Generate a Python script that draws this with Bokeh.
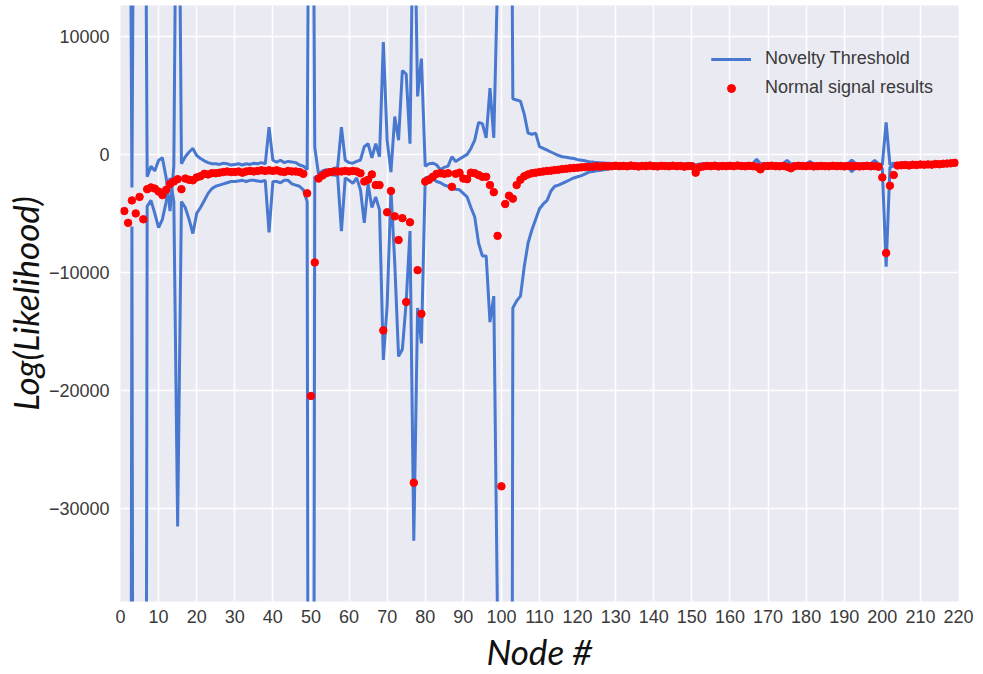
from bokeh.plotting import figure
from bokeh.models import Range1d, FixedTicker, Legend, LegendItem
from bokeh.embed import file_html
from bokeh.resources import INLINE

# ---------------- data ----------------
nodes = list(range(1, 220))

normal_results = [
    -4800, -5800, -3900, -5000, -3600, -5500, -2950, -2800, -2900, -3150,   # 1-10
    -3450, -3000, -2500, -2300, -2100, -2950, -2050, -2150, -2200, -1950,   # 11-20
    -1850, -1650, -1700, -1600, -1600, -1550, -1500, -1450, -1500, -1500,   # 21-30
    -1450, -1550, -1450, -1400, -1450, -1400, -1350, -1400, -1350, -1400,   # 31-40
    -1350, -1450, -1500, -1400, -1450, -1450, -1500, -1650, -3300, -20450,  # 41-50
    -9150, -2050, -1800, -1600, -1500, -1450, -1450, -1450, -1400, -1450,   # 51-60
    -1400, -1450, -1600, -2300, -2150, -1700, -2600, -2600, -14900, -4900,  # 61-70
    -3100, -5250, -7250, -5400, -12500, -5750, -27800, -9800, -13500, -2300,  # 71-80
    -2150, -1900, -1650, -1600, -1650, -1600, -2750, -1650, -1550, -2050,   # 81-90
    -2100, -1550, -1600, -1750, -1900, -1900, -2600, -3200, -6900, -28100,  # 91-100
    -4200, -3500, -3750, -2600, -2150, -1850, -1700, -1600, -1550, -1500,   # 101-110
    -1450, -1400, -1380, -1330, -1300, -1250, -1220, -1180, -1150, -1130,   # 111-120
    -1100, -1080, -1060, -1050, -1000, -1040, -980, -1020, -1000, -960,     # 121-130
    -1000, -980, -1010, -950, -990, -1030, -980, -1000, -950, -1000,        # 131-140
    -1020, -970, -990, -1010, -960, -1000, -980, -1040, -990, -1000,        # 141-150
    -1550, -1100, -1020, -980, -1000, -960, -1020, -990, -1000, -970,       # 151-160
    -1000, -950, -990, -1010, -970, -1000, -1040, -1270, -1000, -980,       # 161-170
    -960, -1000, -1010, -980, -1050, -1180, -1000, -970, -990, -1000,       # 171-180
    -960, -1020, -1000, -980, -1000, -1010, -970, -1000, -990, -1020,       # 181-190
    -980, -1000, -1000, -1020, -1000, -970, -1010, -990, -1050, -1950,      # 191-200
    -8350, -2650, -1750, -950, -920, -900, -940, -880, -900, -860,          # 201-210
    -880, -850, -870, -820, -840, -800, -780, -760, -720,                   # 211-219
]

threshold_upper = [
    60000, 60000, -2800, 60000, 60000, 60000, -1900, -1000, -1400, -500,    # 1-10
    -300, -2000, -4800, -1000, 40000, -800, -200, 200, 500, -100,           # 11-20
    -350, -550, -700, -800, -800, -850, -750, -800, -900, -850,             # 21-30
    -800, -900, -800, -850, -750, -800, -700, -800, 2300, -500,             # 31-40
    -650, -500, -700, -600, -650, -700, -900, -1000, -1300, 60000,          # 41-50
    600, -1700, -1400, -1300, -1350, -1200, -1100, 2300, -500, -700,        # 51-60
    -750, -600, -480, 650, 900, -300, 900, -200, 9500, 1200,                # 61-70
    -1500, 3200, 1200, 7100, 6800, 900, 25000, 4900, 8100, -1000,           # 71-80
    -800, -750, -900, -1300, -1100, -1000, -200, -600, -400, -200,          # 81-90
    0, 500, 1200, 2700, 2600, 1400, 5600, 1400, 15000, 60000,               # 91-100
    60000, 60000, 4700, 4600, 4500, 3400, 1800, 1700, 1800, 650,            # 101-110
    500, 350, 200, 50, -100, -200, -250, -300, -350, -450,                  # 111-120
    -500, -550, -620, -650, -700, -720, -750, -760, -780, -800,             # 121-130
    -800, -810, -800, -820, -790, -800, -800, -760, -800, -780,             # 131-140
    -800, -790, -800, -780, -800, -810, -790, -800, -780, -800,             # 141-150
    -900, -820, -800, -790, -800, -810, -790, -800, -780, -800,             # 151-160
    -800, -790, -820, -800, -780, -800, -420, -800, -790, -800,             # 161-170
    -800, -780, -800, -790, -500, -800, -790, -800, -780, -800,             # 171-180
    -600, -800, -790, -800, -810, -800, -780, -800, -790, -800,             # 181-190
    -800, -480, -800, -790, -800, -810, -780, -500, -800, -900,             # 191-200
    2700, -900, -750, -780, -760, -740, -760, -720, -740, -700,             # 201-210
    -720, -700, -710, -680, -700, -680, -660, -650, -640,                   # 211-219
]

threshold_lower = [
    -200000, -200000, -6100, -200000, -200000, -200000, -4400, -3900, -5000, -6200,  # 1-10
    -5500, -4000, -2000, -4000, -31500, -4000, -4500, -5500, -6700, -5000,           # 11-20
    -4500, -3900, -3300, -2900, -2700, -2600, -2500, -2400, -2300, -2300,            # 21-30
    -2250, -2200, -2300, -2200, -2200, -2250, -2300, -2200, -6600, -2300,            # 31-40
    -2300, -2400, -2200, -2200, -2500, -2600, -2700, -3000, -4000, -200000,          # 41-50
    -1900, -2000, -1600, -1500, -1700, -1750, -1800, -6500, -2000, -2200,            # 51-60
    -2450, -2000, -3000, -5800, -2500, -4500, -3600, -4700, -17400, -12800,          # 61-70
    -3000, -9200, -17100, -16500, -12500, -6500, -32700, -13000, -16000, -2000,      # 71-80
    -1900, -2100, -2300, -2400, -2600, -2700, -2900, -2950, -3000, -3300,            # 81-90
    -3600, -4500, -5300, -7500, -8600, -8600, -14200, -12000, -40000, -200000,       # 91-100
    -200000, -200000, -13000, -12400, -12000, -9500, -7500, -6400, -5500, -4600,     # 101-110
    -4200, -3900, -3100, -2700, -2600, -2450, -2300, -2150, -2000, -1900,            # 111-120
    -1800, -1650, -1500, -1450, -1400, -1350, -1300, -1250, -1200, -1180,            # 121-130
    -1170, -1160, -1150, -1150, -1140, -1130, -1140, -1120, -1130, -1110,            # 131-140
    -1120, -1100, -1110, -1100, -1120, -1100, -1110, -1090, -1100, -1100,            # 141-150
    -1750, -1150, -1100, -1090, -1100, -1080, -1100, -1090, -1080, -1100,            # 151-160
    -1090, -1080, -1100, -1090, -1070, -1090, -1100, -1300, -1090, -1080,            # 161-170
    -1080, -1090, -1070, -1080, -1100, -1250, -1080, -1070, -1090, -1080,            # 171-180
    -1070, -1080, -1090, -1070, -1080, -1090, -1080, -1070, -1090, -1080,            # 181-190
    -1080, -1470, -1080, -1070, -1080, -1090, -1070, -1100, -1080, -1200,            # 191-200
    -9500, -1100, -1000, -980, -960, -940, -930, -910, -900, -880,                   # 201-210
    -870, -860, -850, -840, -820, -800, -790, -780, -760,                            # 211-219
]

x_ticks = list(range(0, 221, 10))
y_ticks = [-30000, -20000, -10000, 0, 10000]

assert len(normal_results) == len(nodes), len(normal_results)
assert len(threshold_upper) == len(nodes), len(threshold_upper)
assert len(threshold_lower) == len(nodes), len(threshold_lower)

# ---------------- figure ----------------
p = figure(width=983, height=674, output_backend="svg", toolbar_location=None,
           x_range=Range1d(0, 220), y_range=Range1d(-37850, 12600),
           min_border_left=120, min_border_right=25, min_border_top=5,
           min_border_bottom=71)

p.background_fill_color = "#EAEAF2"
p.border_fill_color = "white"
p.outline_line_color = None

for ax in (p.xaxis, p.yaxis):
    ax.axis_line_color = None
    ax.major_tick_line_color = None
    ax.minor_tick_line_color = None
    ax.major_tick_out = 0
    ax.major_tick_in = 0
    ax.major_label_text_font = "Liberation Sans"
    ax.major_label_text_font_size = "18px"
    ax.major_label_text_color = "#3a3a3a"
    ax.axis_label_text_font = "Lato"
    ax.axis_label_text_font_style = "italic"
    ax.axis_label_text_font_size = "35px"
    ax.axis_label_text_color = "#111111"

p.xaxis.ticker = FixedTicker(ticks=x_ticks)
p.yaxis.ticker = FixedTicker(ticks=y_ticks)
p.yaxis.major_label_overrides = {-30000: "\u221230000"}
p.xaxis.axis_label = "Node #"
p.yaxis.axis_label = "Log(Likelihood)"
p.xaxis.major_label_standoff = 8
p.yaxis.major_label_standoff = 11
p.xaxis.axis_label_standoff = 4
p.yaxis.axis_label_standoff = 0

p.xgrid.ticker = FixedTicker(ticks=x_ticks)
p.ygrid.ticker = FixedTicker(ticks=y_ticks)
for g in (p.xgrid, p.ygrid):
    g.grid_line_color = "white"
    g.grid_line_width = 1.5

blue = "#4878CF"
r_up = p.line(nodes, threshold_upper, line_color=blue, line_width=3)
r_lo = p.line(nodes, threshold_lower, line_color=blue, line_width=3)
r_dots = p.scatter(nodes, normal_results, size=7.5, fill_color="red", line_color="red")

legend = Legend(items=[
    LegendItem(label="Novelty Threshold", renderers=[r_up, r_lo]),
    LegendItem(label="Normal signal results", renderers=[r_dots]),
], location=(591, 503))
legend.border_line_color = None
legend.background_fill_alpha = 0
legend.label_text_font = "Liberation Sans"
legend.label_text_font_size = "18px"
legend.label_text_color = "#3a3a3a"
legend.glyph_width = 40
legend.glyph_height = 20
legend.label_height = 20
legend.label_standoff = 14
legend.spacing = 8
legend.padding = 10
legend.margin = 0
p.add_layout(legend)

open("out.html", "w").write(file_html(p, INLINE))
